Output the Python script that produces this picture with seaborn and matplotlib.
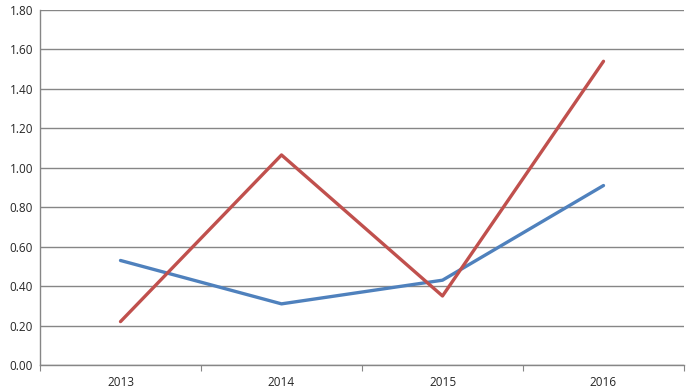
import matplotlib
matplotlib.use("Agg")
import matplotlib.pyplot as plt
import seaborn as sns
import pandas as pd

years = ["2013", "2014", "2015", "2016"]
blue_values = [0.53, 0.31, 0.43, 0.91]
red_values = [0.22, 1.065, 0.35, 1.54]

df = pd.DataFrame({
    "pos": list(range(len(years))) * 2,
    "value": blue_values + red_values,
    "series": ["blue"] * len(years) + ["red"] * len(years),
})

sns.set_style("white")
plt.rcParams["font.family"] = ["Open Sans", "DejaVu Sans"]

fig = plt.figure(figsize=(6.98, 3.92), dpi=100)
ax = fig.add_axes([40 / 698, 27 / 392, 644 / 698, 355 / 392])

sns.lineplot(data=df, x="pos", y="value", hue="series",
             palette={"blue": "#4F81BD", "red": "#C0504D"},
             linewidth=2.4, legend=False, ax=ax)

ax.set_xlim(-0.5, len(years) - 0.5)
ax.set_ylim(0, 1.8)
ax.set_yticks([i * 0.2 for i in range(10)])
ax.set_yticklabels([f"{i * 0.2:.2f}" for i in range(10)], fontsize=8.5)
ax.yaxis.grid(True, color="#868686", linewidth=1)
ax.set_axisbelow(True)

# category boundaries as major ticks, labels at category centres
ax.set_xticks([i - 0.5 for i in range(len(years) + 1)])
ax.set_xticklabels([])
ax.set_xticks(range(len(years)), minor=True)
ax.set_xticklabels(years, minor=True, fontsize=8.5)
ax.tick_params(axis="x", which="major", length=4, color="#868686", direction="out", bottom=True)
ax.tick_params(axis="x", which="minor", length=0, pad=8)
ax.tick_params(axis="y", length=0, pad=5)

for side in ["top", "right"]:
    ax.spines[side].set_visible(False)
for side in ["left", "bottom"]:
    ax.spines[side].set_color("#868686")
    ax.spines[side].set_linewidth(1)

ax.set_xlabel("")
ax.set_ylabel("")

fig.savefig("out.png", dpi=100, facecolor="white")
